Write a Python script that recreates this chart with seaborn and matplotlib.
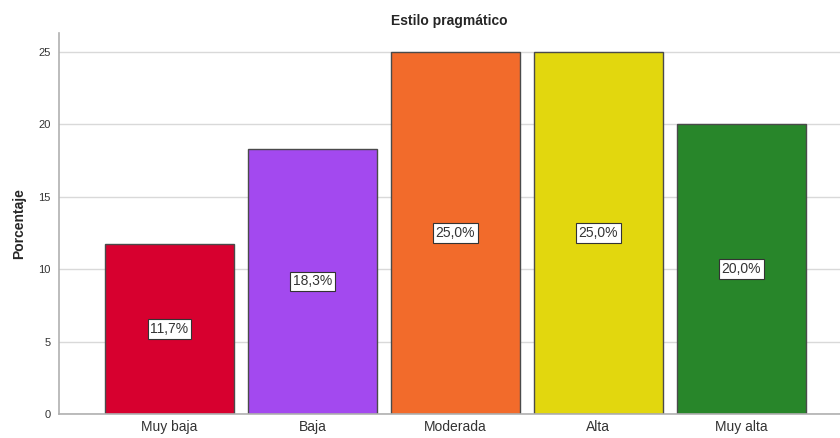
import pandas as pd
import seaborn as sns
import matplotlib.pyplot as plt

categorias = ["Muy baja", "Baja", "Moderada", "Alta", "Muy alta"]
porcentajes = [11.7, 18.3, 25.0, 25.0, 20.0]
colores = ["#D7002F", "#A349EF", "#F26B2B", "#E2D70E", "#28862A"]

df = pd.DataFrame({"nivel": categorias, "pct": porcentajes})

sns.set_style("white")
plt.rcParams["font.family"] = ["Liberation Sans", "DejaVu Sans"]

fig = plt.figure(figsize=(8.4, 4.38), dpi=100)
ax = fig.add_axes([0.0702, 0.0548, 0.9298, 0.8699])

sns.barplot(data=df, x="nivel", y="pct", hue="nivel", palette=colores, saturation=1,
            width=0.9, edgecolor="#4a4a4a", linewidth=1, legend=False, ax=ax, zorder=2)

for i, v in enumerate(porcentajes):
    ax.text(i, v / 2, f"{v:.1f}%".replace(".", ","), ha="center", va="center",
            fontsize=10, color="#333333", zorder=3,
            bbox=dict(boxstyle="square,pad=0.2", fc="white", ec="#333333", lw=0.8))

ax.set_xlim(-0.773, 4.69)
ax.set_ylim(0, 26.3)
ax.set_yticks([0, 5, 10, 15, 20, 25])
ax.yaxis.grid(True, color="#d9d9d9", lw=1, zorder=0)
ax.set_axisbelow(True)
for s in ["top", "right"]:
    ax.spines[s].set_visible(False)
for s in ["left", "bottom"]:
    ax.spines[s].set_color("#b0b0b0")
    ax.spines[s].set_linewidth(1.2)
ax.tick_params(axis="y", labelsize=8, colors="#333333", length=0, pad=6)
ax.tick_params(axis="x", labelsize=10, colors="#333333", length=0, pad=4)
ax.set_xlabel("")
ax.set_ylabel("Porcentaje", fontsize=10, fontweight="bold", labelpad=9)
ax.set_title("Estilo pragmático", fontsize=10, fontweight="bold", pad=6)

fig.savefig("out.png", dpi=100)
